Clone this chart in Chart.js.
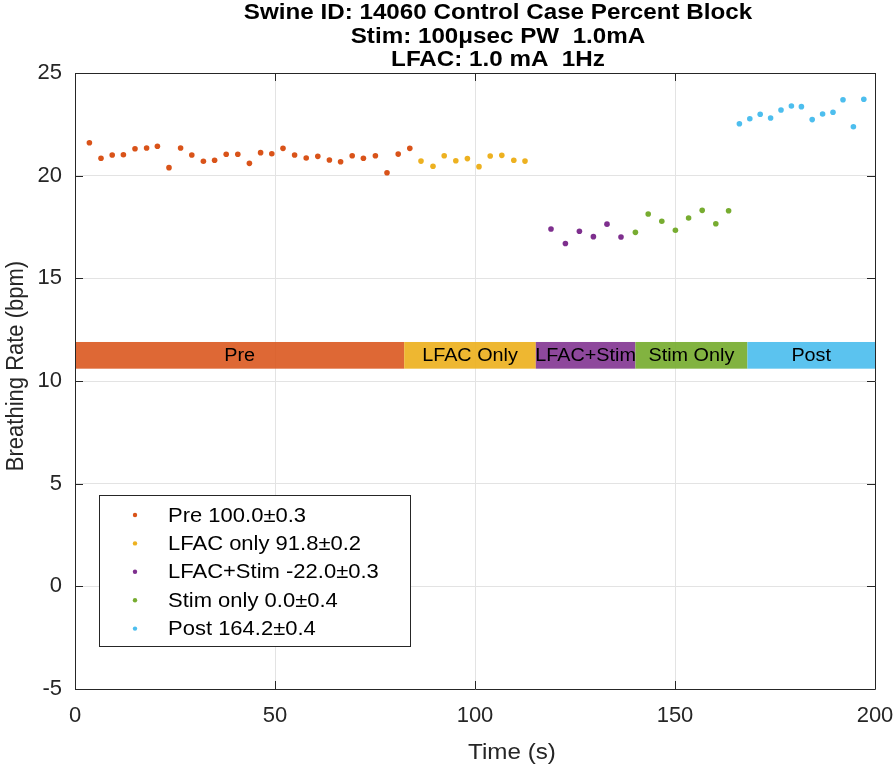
<!DOCTYPE html>
<html lang="en">
<head>
<meta charset="utf-8">
<title>Swine ID 14060 - Percent Block</title>
<script src="https://cdn.jsdelivr.net/npm/chart.js"></script>
<style>
    html, body { margin: 0; padding: 0; background: #fff; }
    #wrap { width: 893px; height: 768px; }
</style>
</head>
<body>
<div id="wrap"><canvas id="chart" width="893" height="768"></canvas></div>
<script>
const titleLines = [
    'Swine ID: 14060 Control Case Percent Block',
    'Stim: 100\u03bcsec PW  1.0mA',
    'LFAC: 1.0 mA  1Hz'
];
const xTitle = 'Time (s)';
const yTitle = 'Breathing Rate (bpm)';

// breathing rate samples (time in s, rate in bpm)
const preTime = [3.6, 6.5, 9.3, 12.1, 15.0, 17.9, 20.6, 23.5, 26.4, 29.2, 32.1, 34.9, 37.8, 40.7,
    43.6, 46.4, 49.2, 52.0, 54.9, 57.8, 60.7, 63.6, 66.4, 69.3, 72.1, 75.1, 78.0, 80.8, 83.7];
const preRate = [21.60, 20.85, 21.01, 21.02, 21.31, 21.35, 21.43, 20.39, 21.35, 21.01, 20.70, 20.75, 21.04, 21.04,
    20.60, 21.12, 21.07, 21.33, 21.01, 20.86, 20.94, 20.76, 20.68, 20.97, 20.85, 20.97, 20.14, 21.05, 21.33];
const lfacTime = [86.5, 89.5, 92.3, 95.2, 98.1, 101.0, 103.8, 106.7, 109.7, 112.5];
const lfacRate = [20.71, 20.46, 20.97, 20.73, 20.83, 20.44, 20.96, 20.99, 20.75, 20.71];
const comboTime = [119.0, 122.6, 126.1, 129.6, 133.0, 136.5];
const comboRate = [17.40, 16.70, 17.29, 17.03, 17.64, 17.01];
const stimTime = [140.1, 143.3, 146.7, 150.1, 153.4, 156.8, 160.2, 163.4];
const stimRate = [17.24, 18.13, 17.78, 17.34, 17.94, 18.31, 17.66, 18.29];
const postTime = [166.1, 168.7, 171.3, 173.9, 176.5, 179.1, 181.6, 184.3, 186.9, 189.5, 192.0, 194.6, 197.2];
const postRate = [22.53, 22.77, 22.99, 22.81, 23.20, 23.39, 23.36, 22.73, 23.00, 23.09, 23.70, 22.38, 23.72];

const seriesNames = ['Pre 100.0\u00b10.3', 'LFAC only 91.8\u00b10.2', 'LFAC+Stim -22.0\u00b10.3',
    'Stim only 0.0\u00b10.4', 'Post 164.2\u00b10.4'];
const seriesColors = ['#D95319', '#EDB120', '#7E2F8E', '#77AC30', '#4DBEEE'];

// phase bar
const bandNames = ['Pre', 'LFAC Only', 'LFAC+Stim', 'Stim Only', 'Post'];
const bandEdges = [0, 82.3, 115.2, 140.1, 168.1, 200];
const bandColors = ['rgba(217,83,25,0.88)', 'rgba(237,177,32,0.92)', 'rgba(126,47,142,0.88)',
    'rgba(119,172,48,0.92)', 'rgba(77,190,238,0.92)'];
const bandLow = 10.6;
const bandHigh = 11.9;

const xMin = 0, xMax = 200, xStep = 50;
const yMin = -5, yMax = 25, yStep = 5;

const axisColor = '#262626';
const fontFamily = "'Liberation Sans', Arial, sans-serif";
const stretch = 1.1; // the source figure text is a little wide

function wideText(ctx, text, x, y) {
    ctx.save();
    ctx.translate(x, y);
    ctx.scale(stretch, 1);
    ctx.fillText(text, 0, 0);
    ctx.restore();
}

const titlePlugin = {
    id: 'figTitle',
    afterDraw(chart) {
        const ctx = chart.ctx;
        ctx.save();
        ctx.fillStyle = '#000';
        ctx.font = 'bold 22px ' + fontFamily;
        ctx.textAlign = 'center';
        ctx.textBaseline = 'middle';
        titleLines.forEach((line, i) => {
            wideText(ctx, line, 498, 13 + i * 23.5);
        });
        // axis titles
        ctx.fillStyle = axisColor;
        ctx.font = '22px ' + fontFamily;
        wideText(ctx, xTitle, 512, 753);
        ctx.translate(16, 366);
        ctx.rotate(-Math.PI / 2);
        ctx.scale(1, stretch);
        ctx.fillText(yTitle, 0, 0);
        ctx.restore();
    }
};

const bandPlugin = {
    id: 'phaseBand',
    beforeDatasetsDraw(chart) {
        const ctx = chart.ctx;
        const xs = chart.scales.x, ys = chart.scales.y;
        const yTop = ys.getPixelForValue(bandHigh);
        const yBot = ys.getPixelForValue(bandLow);
        ctx.save();
        bandNames.forEach((name, i) => {
            const x0 = xs.getPixelForValue(bandEdges[i]);
            const x1 = xs.getPixelForValue(bandEdges[i + 1]);
            ctx.fillStyle = bandColors[i];
            ctx.fillRect(x0, yTop, x1 - x0, yBot - yTop);
            ctx.fillStyle = '#000';
            ctx.font = '18px ' + fontFamily;
            ctx.textAlign = 'center';
            ctx.textBaseline = 'middle';
            wideText(ctx, name, (x0 + x1) / 2, (yTop + yBot) / 2 + 1);
        });
        ctx.restore();
    }
};

// MATLAB style box with inward ticks on all sides
const boxPlugin = {
    id: 'axesBox',
    afterDatasetsDraw(chart) {
        const ctx = chart.ctx;
        const a = chart.chartArea;
        const xs = chart.scales.x, ys = chart.scales.y;
        const len = 8;
        ctx.save();
        ctx.strokeStyle = axisColor;
        ctx.lineWidth = 1;
        ctx.beginPath();
        ctx.rect(a.left + 0.5, a.top + 0.5, a.right - a.left, a.bottom - a.top);
        for (let v = xMin; v <= xMax; v += xStep) {
            const px = Math.round(xs.getPixelForValue(v)) + 0.5;
            ctx.moveTo(px, a.bottom); ctx.lineTo(px, a.bottom - len);
            ctx.moveTo(px, a.top); ctx.lineTo(px, a.top + len);
        }
        for (let v = yMin; v <= yMax; v += yStep) {
            const py = Math.round(ys.getPixelForValue(v)) + 0.5;
            ctx.moveTo(a.left, py); ctx.lineTo(a.left + len, py);
            ctx.moveTo(a.right, py); ctx.lineTo(a.right - len, py);
        }
        ctx.stroke();
        ctx.restore();
    }
};

const legendPlugin = {
    id: 'boxLegend',
    afterDraw(chart) {
        const ctx = chart.ctx;
        const left = 99, top = 495, w = 311, h = 151;
        ctx.save();
        ctx.fillStyle = '#fff';
        ctx.fillRect(left, top, w, h);
        ctx.strokeStyle = axisColor;
        ctx.lineWidth = 1;
        ctx.strokeRect(left + 0.5, top + 0.5, w, h);
        ctx.font = '20px ' + fontFamily;
        ctx.textAlign = 'left';
        ctx.textBaseline = 'middle';
        chart.data.datasets.forEach((ds, i) => {
            const cy = top + 20 + i * 28.4;
            ctx.fillStyle = ds.backgroundColor;
            ctx.beginPath();
            ctx.arc(left + 36, cy, 2.2, 0, Math.PI * 2);
            ctx.fill();
            ctx.fillStyle = '#000';
            wideText(ctx, ds.label, left + 69, cy + 1);
        });
        ctx.restore();
    }
};

function toPoints(xs, ys) {
    return xs.map((x, i) => ({ x: x, y: ys[i] }));
}

const seriesData = [
    toPoints(preTime, preRate),
    toPoints(lfacTime, lfacRate),
    toPoints(comboTime, comboRate),
    toPoints(stimTime, stimRate),
    toPoints(postTime, postRate)
];

const datasets = seriesData.map((pts, i) => ({
    label: seriesNames[i],
    data: pts,
    showLine: false,
    backgroundColor: seriesColors[i],
    pointBackgroundColor: seriesColors[i],
    pointBorderWidth: 0,
    pointRadius: 2.8
}));

const tickFont = { family: fontFamily, size: 22 };

new Chart(document.getElementById('chart'), {
    type: 'scatter',
    data: { datasets: datasets },
    options: {
        responsive: false,
        animation: false,
        devicePixelRatio: 1,
        layout: { padding: { top: 73, right: 18, left: 0, bottom: 0 } },
        plugins: {
            legend: { display: false },
            title: { display: false },
            tooltip: { enabled: false }
        },
        scales: {
            x: {
                type: 'linear',
                min: xMin, max: xMax,
                afterFit(s) {
                    s.height = 79;
                    s.paddingLeft = 0;
                    s.paddingRight = 0;
                },
                ticks: { stepSize: xStep, color: axisColor, font: tickFont, padding: 14, maxRotation: 0 },
                grid: { color: '#e3e3e3', drawTicks: false },
                border: { display: false }
            },
            y: {
                min: yMin, max: yMax,
                afterFit(s) {
                    s.width = 75;
                    s.paddingTop = 0;
                    s.paddingBottom = 0;
                },
                ticks: { stepSize: yStep, color: axisColor, font: tickFont, padding: 13 },
                grid: { color: '#e3e3e3', drawTicks: false },
                border: { display: false }
            }
        }
    },
    plugins: [bandPlugin, boxPlugin, legendPlugin, titlePlugin]
});
</script>
</body>
</html>
